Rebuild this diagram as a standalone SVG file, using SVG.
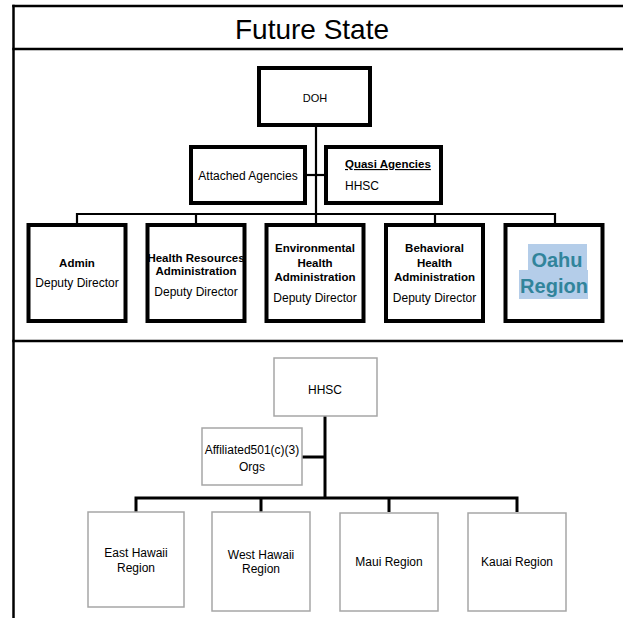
<svg xmlns="http://www.w3.org/2000/svg" width="623" height="618" viewBox="0 0 623 618">
<style>
text{font-family:"Liberation Sans",Arial,sans-serif;fill:#000;text-anchor:middle}
.t{font-size:12px}
.b{font-size:11.5px;font-weight:bold}
.big{fill:none;stroke:#000;stroke-width:4}
.gray{fill:#fff;stroke:#a6a6a6;stroke-width:1.5}
.tbl{stroke:#000;stroke-width:2.5;fill:none}
.c1{stroke:#000;stroke-width:2.2;fill:none}
.c2{stroke:#000;stroke-width:3;fill:none}
</style>
<rect x="0" y="0" width="623" height="618" fill="#fff"/>
<g id="table">
<line class="tbl" x1="12.3" y1="6" x2="623" y2="6"/>
<line class="tbl" x1="12.3" y1="49" x2="623" y2="49"/>
<line class="tbl" x1="12.3" y1="341" x2="623" y2="341"/>
<line class="tbl" x1="13.5" y1="4.8" x2="13.5" y2="618"/>
<text x="312" y="39" style="font-size:28px">Future State</text>
</g>
<g id="connectors">
<polyline class="c1" points="316,126 316,214"/>
<line class="c1" x1="307" y1="175" x2="324" y2="175"/>
<polyline class="c1" points="77,224 77,214 555,214 555,224"/>
<line class="c1" x1="196" y1="214" x2="196" y2="224"/>
<line class="c1" x1="316" y1="214" x2="316" y2="224"/>
<line class="c1" x1="435" y1="214" x2="435" y2="224"/>
<line class="c2" x1="325" y1="416" x2="325" y2="498"/>
<line class="c2" x1="302" y1="457" x2="325" y2="457"/>
<polyline class="c2" points="136,512 136,498 517,498 517,512"/>
<line class="c2" x1="261" y1="498" x2="261" y2="512"/>
<line class="c2" x1="389" y1="498" x2="389" y2="512"/>
</g>
<g id="doh">
<rect class="big" x="259" y="68" width="111" height="57"/>
<text x="315" y="102" style="font-size:11px">DOH</text>
</g>
<g id="attached">
<rect class="big" x="191" y="147" width="114" height="56"/>
<text class="t" x="248" y="180">Attached Agencies</text>
</g>
<g id="quasi">
<rect class="big" x="326" y="147" width="115" height="56"/>
<text class="b" x="345" y="168" style="text-anchor:start;text-decoration:underline">Quasi Agencies</text>
<text class="t" x="345" y="190" style="text-anchor:start">HHSC</text>
</g>
<g id="admin">
<rect class="big" x="28.5" y="225" width="97" height="96"/>
<text class="b" x="77" y="267">Admin</text>
<text class="t" x="77" y="287">Deputy Director</text>
</g>
<g id="hra">
<rect class="big" x="147.5" y="225" width="97" height="96"/>
<text class="b" x="196" y="262">Health Resources</text>
<text class="b" x="196" y="275">Administration</text>
<text class="t" x="196" y="296">Deputy Director</text>
</g>
<g id="eha">
<rect class="big" x="266.5" y="225" width="97" height="96"/>
<text class="b" x="315" y="252">Environmental</text>
<text class="b" x="315" y="267">Health</text>
<text class="b" x="315" y="281">Administration</text>
<text class="t" x="315" y="302">Deputy Director</text>
</g>
<g id="bha">
<rect class="big" x="386" y="225" width="97" height="96"/>
<text class="b" x="434.5" y="252">Behavioral</text>
<text class="b" x="434.5" y="267">Health</text>
<text class="b" x="434.5" y="281">Administration</text>
<text class="t" x="434.5" y="302">Deputy Director</text>
</g>
<g id="oahu">
<rect class="big" x="505.5" y="225" width="97" height="96"/>
<rect x="528" y="244" width="59" height="26" fill="#b4cde9"/>
<rect x="519" y="270" width="69" height="29" fill="#b4cde9"/>
<text x="557" y="267" style="font-size:20px;font-weight:bold;fill:#31849b">Oahu</text>
<text x="554" y="293" style="font-size:20px;font-weight:bold;fill:#31849b">Region</text>
</g>
<g id="hhsc">
<rect class="gray" x="274" y="358" width="103" height="58"/>
<text class="t" x="325" y="394">HHSC</text>
</g>
<g id="affiliated">
<rect class="gray" x="202" y="428" width="100" height="57"/>
<text class="t" x="252" y="454">Affiliated501(c)(3)</text>
<text class="t" x="252" y="471">Orgs</text>
</g>
<g id="east">
<rect class="gray" x="88" y="512" width="96" height="95"/>
<text class="t" x="136" y="557">East Hawaii</text>
<text class="t" x="136" y="572">Region</text>
</g>
<g id="west">
<rect class="gray" x="212" y="512" width="98" height="99"/>
<text class="t" x="261" y="559">West Hawaii</text>
<text class="t" x="261" y="573">Region</text>
</g>
<g id="maui">
<rect class="gray" x="340" y="513" width="98" height="98"/>
<text class="t" x="389" y="566">Maui Region</text>
</g>
<g id="kauai">
<rect class="gray" x="468" y="513" width="98" height="98"/>
<text class="t" x="517" y="566">Kauai Region</text>
</g>
</svg>
